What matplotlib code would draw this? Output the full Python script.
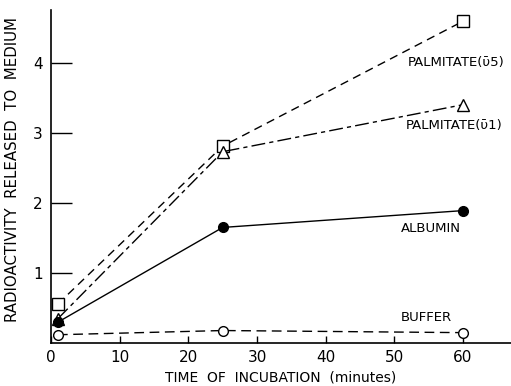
import matplotlib
matplotlib.use("Agg")
import matplotlib.pyplot as plt

# data
time = [1, 25, 60]
palm5 = [0.56, 2.81, 4.59]
palm1 = [0.35, 2.73, 3.40]
albumin = [0.30, 1.65, 1.89]
buffer_ = [0.12, 0.18, 0.15]

xticks = [0, 10, 20, 30, 40, 50, 60]
yticks = [1, 2, 3, 4]

plt.rcParams['font.family'] = ['DejaVu Sans']

fig = plt.figure(figsize=(5.11, 3.86), dpi=100)
ax = fig.add_axes([0.1, 0.111, 0.9, 0.863])

k = dict(color='black', lw=1.0)
ax.plot(time, palm5, dashes=(6, 4), marker='s', ms=8, mfc='white', mec='black', **k)
ax.plot(time, palm1, dashes=(10, 3, 3, 3), marker='^', ms=8, mfc='white', mec='black', **k)
ax.plot(time, albumin, ls='-', marker='o', ms=7, mfc='black', mec='black', **k)
ax.plot(time, buffer_, dashes=(7, 4), marker='o', ms=7, mfc='white', mec='black', **k)

fs = 9.5
ax.text(52, 4.0, 'PALMITATE(ῡ5)', fontsize=fs, va='center')
ax.text(51.6, 3.1, 'PALMITATE(ῡ1)', fontsize=fs, va='center')
ax.text(50.9, 1.64, 'ALBUMIN', fontsize=fs, va='center')
ax.text(50.9, 0.36, 'BUFFER', fontsize=fs, va='center')

ax.set_xlim(0, 67)
ax.set_ylim(0, 4.75)
ax.set_xticks(xticks)
ax.set_yticks(yticks)
ax.tick_params(axis='y', direction='in', length=15, width=1, labelsize=11, pad=6)
ax.tick_params(axis='x', direction='in', length=5, width=1, labelsize=11, pad=5)
for s in ['top', 'right']:
    ax.spines[s].set_visible(False)
for s in ['left', 'bottom']:
    ax.spines[s].set_linewidth(1.2)

ax.set_xlabel('TIME  OF  INCUBATION  (minutes)', fontsize=10, labelpad=4)
ax.set_ylabel('RADIOACTIVITY  RELEASED  TO  MEDIUM', fontsize=10.8, labelpad=14)
ax.yaxis.set_label_coords(-0.068, 0.52)

fig.savefig('out.png', dpi=100)
